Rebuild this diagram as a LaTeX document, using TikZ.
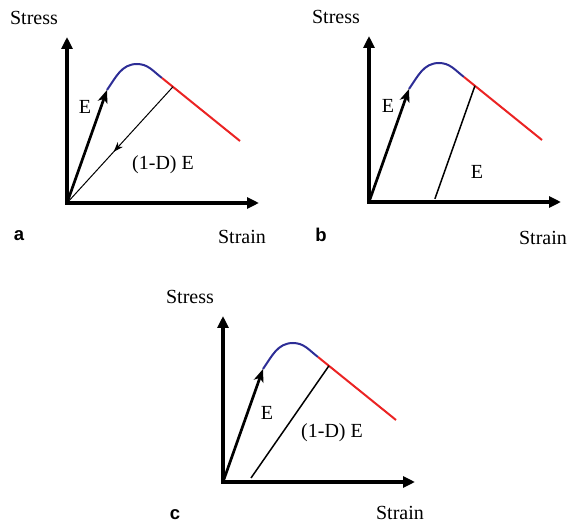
\documentclass[tikz,border=0pt]{standalone}
\usepackage{fontspec}
\setmainfont{Liberation Serif}
\newfontfamily\lblfont{Liberation Sans}
\usetikzlibrary{arrows.meta,calc,decorations.markings}
\definecolor{curveblue}{RGB}{45,45,150}
\definecolor{curvered}{RGB}{235,35,35}
\tikzset{
  axisline/.style={line width=4pt,line join=miter,{Triangle[length=12pt,width=11pt]}-{Triangle[length=12pt,width=11pt]}},
  earrow/.style={line width=2.7pt,-{Stealth[length=13pt,width=10pt,inset=3.5pt]}},
  hardening/.style={line width=2pt,curveblue},
  softening/.style={line width=2pt,curvered},
  unload/.style={line width=1.5pt},
  txt/.style={font=\fontsize{20}{22}\selectfont,inner sep=0pt},
  panelletter/.style={font=\lblfont\bfseries\fontsize{18.5}{20}\selectfont,inner sep=0pt}
}
\newcommand{\stresspanel}[2]{%
  \coordinate (#1O) at (0,0);
  \coordinate (#1Y) at (0,166);
  \coordinate (#1X) at (192,0);
  \coordinate (#1P) at (40,113);
  \coordinate (#1K) at (70,139);
  \coordinate (#1J) at (95,125);
  \coordinate (#1R) at (173,62);
  \coordinate (#1U) at ($(#1J)!0.14!(#1R)$);
  \draw[axisline] (#1Y) -- (#1O) -- (#1X);
  \draw[hardening] (#1P) to[out=55,in=180] (#1K) to[out=0,in=143] (#1J);
  \draw[softening] (#1J) -- (#1R);
  \draw[earrow] (#1O) -- (#1P);
  \node[txt] (#1Stress) at (-33,185) {Stress};
  \node[panelletter] (#1Letter) at (-48,-33) {#2};
}
\begin{document}
\begin{tikzpicture}[x=1pt,y=1pt]
\useasboundingbox (0,0) rectangle (571,523);
% panel a
\begin{scope}[shift={(67,320)}]
  \stresspanel{a}{a}
  \node[txt] (aStrain) at (175,-34) {Strain};
  \draw[line width=1pt,postaction={decorate},decoration={markings,mark=at position 0.56 with {\arrow{Stealth[length=10pt,width=7pt,inset=3pt]}}}] (aU) -- (aO);
  \node[txt] (aE) at (18,96) {E};
  \node[txt] (aDE) at (96,38) {(1-D) E};
\end{scope}
% panel b
\begin{scope}[shift={(369,321)}]
  \stresspanel{b}{b}
  \node[txt] (bStrain) at (174,-36) {Strain};
  \coordinate (bB) at ($(bU)-(bP)$);
  \draw[unload] (bU) -- (bB);
  \node[txt] (bE) at (19,96) {E};
  \node[txt] (bE2) at (108,30) {E};
\end{scope}
% panel c
\begin{scope}[shift={(223,41)}]
  \stresspanel{c}{c}
  \node[txt] (cStrain) at (177,-31) {Strain};
  \coordinate (cB) at (28,4);
  \draw[unload] (cU) -- (cB);
  \node[txt] (cE) at (44,69) {E};
  \node[txt] (cDE) at (109,49) {(1-D) E};
\end{scope}
\end{tikzpicture}
\end{document}
